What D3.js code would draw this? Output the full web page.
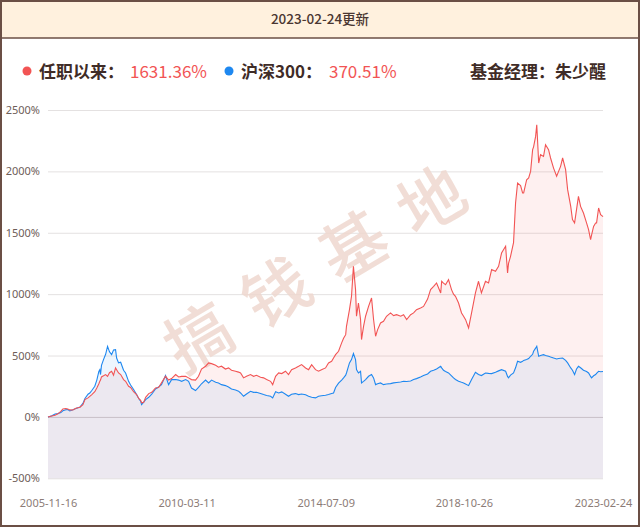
<!DOCTYPE html>
<html>
<head>
<meta charset="utf-8">
<script src="https://cdn.jsdelivr.net/npm/d3@7"></script>
<style>
html,body{margin:0;padding:0;background:#fff;}
svg{display:block;}
</style>
</head>
<body>
<svg id="chart" width="640" height="527"></svg>
<script>
const updateDate = "2023-02-24";
const legendNames = ["任职以来：", "沪深300："];
const legendValues = ["1631.36%", "370.51%"];
const managerText = "基金经理：朱少醒";
const watermarkText = "搞钱基地";
const yTicks = [-500, 0, 500, 1000, 1500, 2000, 2500];
const xTickLabels = ["2005-11-16", "2010-03-11", "2014-07-09", "2018-10-26", "2023-02-24"];

const dates = [
"2005-11-16","2005-12-30","2006-02-04","2006-03-08","2006-04-11","2006-05-04","2006-06-07","2006-06-29","2006-07-22","2006-08-26",
"2006-09-29","2006-11-14","2006-12-18","2007-01-10","2007-02-14","2007-03-06","2007-03-29","2007-05-02","2007-05-25","2007-06-17",
"2007-06-28","2007-07-06","2007-07-17","2007-08-09","2007-09-02","2007-09-24","2007-10-16","2007-11-09","2007-12-01","2007-12-24",
"2008-01-05","2008-01-27","2008-02-20","2008-03-24","2008-04-16","2008-05-20","2008-06-12","2008-07-16","2008-08-19","2008-09-12",
"2008-10-04","2008-10-15","2008-11-08","2008-11-30","2009-01-04","2009-02-07","2009-03-22","2009-04-26","2009-05-29","2009-07-14",
"2009-08-18","2009-09-21","2009-11-06","2009-12-10","2010-01-13","2010-02-28","2010-04-02","2010-05-05","2010-06-20","2010-07-24",
"2010-08-27","2010-10-12","2010-11-16","2010-12-19","2011-02-04","2011-03-08","2011-04-11","2011-05-26","2011-06-30","2011-08-03",
"2011-09-18","2011-10-22","2011-11-14","2011-12-18","2012-01-21","2012-03-06","2012-04-10","2012-05-13","2012-06-28","2012-08-02",
"2012-09-05","2012-10-20","2012-11-13","2012-12-16","2013-01-20","2013-02-24","2013-04-08","2013-05-12","2013-06-16","2013-07-30",
"2013-09-04","2013-10-08","2013-11-22","2013-12-26","2014-01-30","2014-03-15","2014-04-18","2014-05-22","2014-07-07","2014-08-10",
"2014-09-14","2014-10-06","2014-10-29","2014-12-02","2015-01-06","2015-01-28","2015-02-21","2015-03-02","2015-04-05","2015-04-28",
"2015-05-20","2015-06-13","2015-06-24","2015-07-16","2015-08-09","2015-08-20","2015-09-12","2015-10-05","2015-11-08","2015-12-12",
"2016-01-04","2016-01-27","2016-02-19","2016-03-23","2016-04-26","2016-05-30","2016-07-15","2016-08-18","2016-09-22","2016-11-07",
"2016-12-10","2017-01-14","2017-02-28","2017-04-03","2017-05-06","2017-06-21","2017-07-25","2017-09-09","2017-10-13","2017-11-17",
"2017-12-20","2018-02-05","2018-02-16","2018-03-09","2018-04-01","2018-05-05","2018-06-08","2018-07-01","2018-07-23","2018-08-27",
"2018-09-30","2018-10-23","2018-11-15","2018-12-19","2019-01-22","2019-03-07","2019-04-11","2019-05-14","2019-06-29","2019-08-03",
"2019-09-07","2019-10-21","2019-11-25","2019-12-29","2020-02-13","2020-03-06","2020-03-17","2020-04-09","2020-05-13","2020-06-05",
"2020-06-28","2020-08-01","2020-08-24","2020-09-05","2020-10-09","2020-11-01","2020-11-23","2020-12-16","2020-12-27","2021-01-19",
"2021-02-01","2021-02-23","2021-03-16","2021-04-19","2021-05-12","2021-06-15","2021-07-08","2021-08-11","2021-09-15","2021-10-07",
"2021-10-30","2021-11-22","2021-12-26","2022-01-18","2022-02-22","2022-03-14","2022-04-07","2022-04-29","2022-05-21","2022-06-14",
"2022-07-17","2022-08-21","2022-09-13","2022-10-06","2022-10-17","2022-11-09","2022-12-02","2022-12-13","2023-01-05","2023-01-28",
"2023-02-24"
];

const fundReturn = [
0,8,14,25,45,65,68,65,57,56,
70,79,100,141,155,168,182,205,236,270,
290,300,326,335,345,330,360,372,340,400,
385,358,345,304,290,250,240,205,182,150,
136,115,119,160,190,200,236,240,277,331,
300,312,345,325,330,331,318,304,300,331,
390,413,440,434,420,405,413,390,399,380,
372,365,358,318,331,345,331,339,323,318,
304,290,263,331,358,353,372,345,385,399,
412,426,399,385,426,385,372,385,399,440,
453,480,507,535,603,640,670,738,874,982,
1227,1037,820,928,793,630,738,820,901,969,
793,657,711,765,779,820,847,825,833,820,
833,793,833,847,874,887,900,960,1037,1064,
1091,1010,1105,1090,1077,1118,1037,1000,982,928,
847,820,792,725,847,1010,1105,1010,1105,1091,
1200,1186,1227,1335,1390,1172,1250,1308,1420,1742,
1905,1885,1824,1824,1932,1946,2000,2177,2200,2285,
2380,2068,2136,2122,2217,2177,2109,2027,1960,2000,
2041,2109,2014,1851,1715,1607,1580,1688,1797,1715,
1661,1580,1525,1444,1480,1552,1580,1580,1702,1648,
1631.36
];

const hs300Return = [
0,10,24,27,35,50,58,60,49,58,
68,80,110,150,185,195,215,250,300,370,
385,345,420,467,510,575,530,507,545,548,
480,440,445,380,358,290,260,223,182,150,
128,100,120,141,160,185,228,244,263,337,
263,304,305,300,290,304,290,235,215,240,
270,300,277,300,282,277,263,255,244,228,
220,210,195,168,187,209,200,201,190,182,
175,168,155,205,195,204,185,168,185,190,
182,187,180,168,160,155,168,172,176,182,
190,195,240,275,300,318,340,358,440,467,
516,467,385,358,372,277,290,304,331,345,
318,263,270,277,263,268,271,277,280,284,
290,288,292,304,312,325,337,350,372,380,
391,412,400,380,370,358,335,318,305,290,
282,277,268,255,304,364,345,337,358,355,
353,364,375,385,372,330,318,340,358,400,
453,445,453,460,467,475,494,510,535,560,
575,494,500,507,500,494,488,480,472,476,
478,480,460,440,399,380,345,390,412,400,
380,370,358,330,318,335,345,355,372,368,
370.51
];

const svg = d3.select("#chart");
const W = 640, H = 527;
const parse = d3.timeParse("%Y-%m-%d");
const fmt = d3.timeFormat("%Y-%m-%d");
const fontCJK = "'Noto Sans CJK SC','Noto Sans',sans-serif";

// frame & header
svg.append("rect").attr("x",0).attr("y",0).attr("width",W).attr("height",H).attr("fill","#fff");
svg.append("rect").attr("x",0).attr("y",0).attr("width",W).attr("height",38).attr("fill","#fff1de");
svg.append("line").attr("x1",0).attr("x2",W).attr("y1",38).attr("y2",38).attr("stroke","#6b4f45").attr("stroke-width",1.5);
svg.append("rect").attr("x",1).attr("y",1).attr("width",W-2).attr("height",H-2)
  .attr("fill","none").attr("stroke","#6b4f45").attr("stroke-width",2);
svg.append("text").attr("x",320).attr("y",24).attr("text-anchor","middle")
  .attr("font-family",fontCJK).attr("font-size",13.5).attr("font-weight",500).attr("fill","#4a3631").text(updateDate + "更新");

// legend
const legendColors = ["#f25454", "#1e88f0"];
const legX = [27, 229];
const valX = [130, 329];
legendNames.forEach((n,i)=>{
  svg.append("circle").attr("cx",legX[i]).attr("cy",71).attr("r",4.5).attr("fill",legendColors[i]);
  svg.append("text").attr("x",legX[i]+12).attr("y",78).attr("font-family",fontCJK).attr("font-size",17)
    .attr("font-weight","bold").attr("fill","#3f2c27").text(n);
  svg.append("text").attr("x",valX[i]).attr("y",78).attr("font-family",fontCJK).attr("font-size",17)
    .attr("fill","#f25454").text(legendValues[i]);
});
svg.append("text").attr("x",606).attr("y",78).attr("text-anchor","end").attr("font-family",fontCJK)
  .attr("font-size",17).attr("font-weight","bold").attr("fill","#3f2c27").text(managerText);

// scales
const x = d3.scaleTime().domain([parse(dates[0]), parse(dates[dates.length-1])]).range([48, 603]);
const y = d3.scaleLinear().domain([-500, 2500]).range([478.3, 110]);

// grid
const yAxis = d3.axisLeft(y).tickValues(yTicks).tickSize(-(603-48)).tickFormat(d=>d+"%");
const gy = svg.append("g").attr("transform","translate(48,0)").call(yAxis);
gy.select(".domain").remove();
gy.selectAll(".tick line").attr("stroke",d=> d===0 ? "#d6d0cf" : "#e4e1e1").attr("stroke-width",1);
gy.selectAll(".tick text").attr("x",-8).attr("font-family","'Noto Sans',sans-serif").attr("font-size",11).attr("fill","#6e5e59");

// watermark
svg.append("text").attr("transform","translate(323,259) rotate(-30.5)")
  .attr("text-anchor","middle").attr("dominant-baseline","central")
  .attr("font-family",fontCJK).attr("font-size",66).attr("font-weight",500).attr("letter-spacing",24)
  .attr("fill","#efd8cf").attr("opacity",0.85).text(watermarkText);

// series
const fund = dates.map((d,i)=>({date:parse(d), v:fundReturn[i]}));
const hs = dates.map((d,i)=>({date:parse(d), v:hs300Return[i]}));
const area = d3.area().x(d=>x(d.date)).y0(y(-500)).y1(d=>y(d.v));
const line = d3.line().x(d=>x(d.date)).y(d=>y(d.v));

svg.append("path").datum(fund).attr("d",area).attr("fill","#f25454").attr("fill-opacity",0.09);
svg.append("path").datum(hs).attr("d",area).attr("fill","#1e88f0").attr("fill-opacity",0.08);
svg.append("path").datum(hs).attr("d",line).attr("fill","none").attr("stroke","#1e88f0").attr("stroke-width",1.1);
svg.append("path").datum(fund).attr("d",line).attr("fill","none").attr("stroke","#f25454").attr("stroke-width",1.1);

// x axis
const xAxis = d3.axisBottom(x).tickValues(xTickLabels.map(parse)).tickSize(0).tickFormat(fmt);
const gx = svg.append("g").attr("transform","translate(0,496)").call(xAxis);
gx.select(".domain").remove();
gx.selectAll(".tick text").attr("font-family","'Noto Sans',sans-serif").attr("font-size",11).attr("fill","#8c7c77");
</script>
</body>
</html>
